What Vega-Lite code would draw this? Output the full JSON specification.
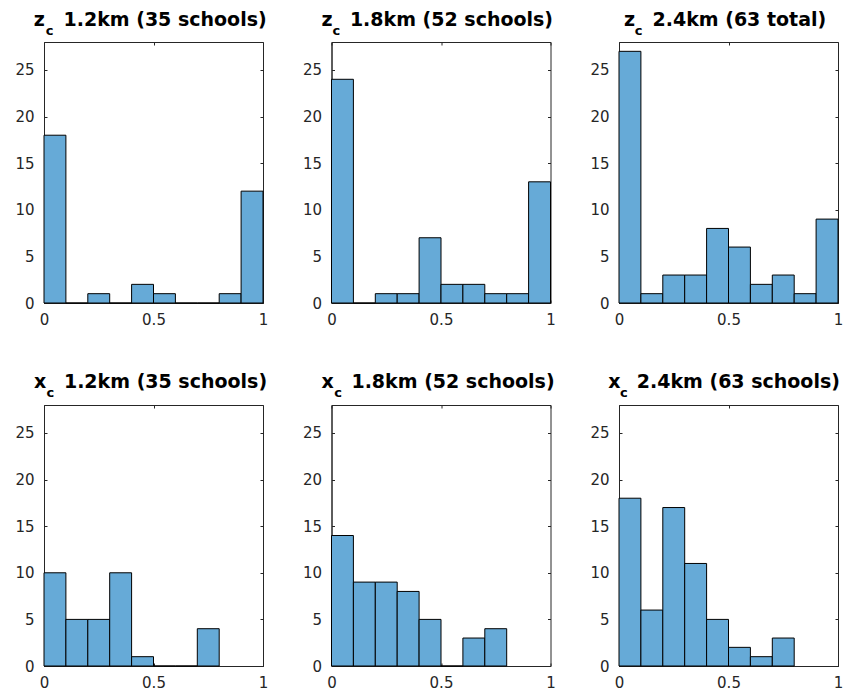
{
  "$schema": "https://vega.github.io/schema/vega-lite/v6.json",
  "padding": {"left": 14, "top": 10, "right": 5, "bottom": 5},
  "background": "white",
  "bounds": "flush",
  "columns": 3,
  "spacing": {"row": 102, "column": 68.5},
  "config": {
    "view": {"stroke": "#262626", "strokeWidth": 1},
    "axis": {"grid": false, "title": null, "labelFont": "DejaVu Sans", "labelFontSize": 15, "labelColor": "#262626", "domainColor": "#262626", "tickColor": "#262626", "tickSize": -3, "domainWidth": 1, "tickWidth": 1},
    "axisX": {"labelPadding": 12, "labelFlush": false},
    "axisY": {"labelPadding": 13}
  },
  "datasets": {
    "hist": [
      {"p": "z12", "b0": 0.0, "b1": 0.1, "n": 18}, {"p": "z12", "b0": 0.1, "b1": 0.2, "n": 0}, {"p": "z12", "b0": 0.2, "b1": 0.3, "n": 1}, {"p": "z12", "b0": 0.3, "b1": 0.4, "n": 0}, {"p": "z12", "b0": 0.4, "b1": 0.5, "n": 2}, {"p": "z12", "b0": 0.5, "b1": 0.6, "n": 1}, {"p": "z12", "b0": 0.6, "b1": 0.7, "n": 0}, {"p": "z12", "b0": 0.7, "b1": 0.8, "n": 0}, {"p": "z12", "b0": 0.8, "b1": 0.9, "n": 1}, {"p": "z12", "b0": 0.9, "b1": 1.0, "n": 12},
      {"p": "z18", "b0": 0.0, "b1": 0.1, "n": 24}, {"p": "z18", "b0": 0.1, "b1": 0.2, "n": 0}, {"p": "z18", "b0": 0.2, "b1": 0.3, "n": 1}, {"p": "z18", "b0": 0.3, "b1": 0.4, "n": 1}, {"p": "z18", "b0": 0.4, "b1": 0.5, "n": 7}, {"p": "z18", "b0": 0.5, "b1": 0.6, "n": 2}, {"p": "z18", "b0": 0.6, "b1": 0.7, "n": 2}, {"p": "z18", "b0": 0.7, "b1": 0.8, "n": 1}, {"p": "z18", "b0": 0.8, "b1": 0.9, "n": 1}, {"p": "z18", "b0": 0.9, "b1": 1.0, "n": 13},
      {"p": "z24", "b0": 0.0, "b1": 0.1, "n": 27}, {"p": "z24", "b0": 0.1, "b1": 0.2, "n": 1}, {"p": "z24", "b0": 0.2, "b1": 0.3, "n": 3}, {"p": "z24", "b0": 0.3, "b1": 0.4, "n": 3}, {"p": "z24", "b0": 0.4, "b1": 0.5, "n": 8}, {"p": "z24", "b0": 0.5, "b1": 0.6, "n": 6}, {"p": "z24", "b0": 0.6, "b1": 0.7, "n": 2}, {"p": "z24", "b0": 0.7, "b1": 0.8, "n": 3}, {"p": "z24", "b0": 0.8, "b1": 0.9, "n": 1}, {"p": "z24", "b0": 0.9, "b1": 1.0, "n": 9},
      {"p": "x12", "b0": 0.0, "b1": 0.1, "n": 10}, {"p": "x12", "b0": 0.1, "b1": 0.2, "n": 5}, {"p": "x12", "b0": 0.2, "b1": 0.3, "n": 5}, {"p": "x12", "b0": 0.3, "b1": 0.4, "n": 10}, {"p": "x12", "b0": 0.4, "b1": 0.5, "n": 1}, {"p": "x12", "b0": 0.5, "b1": 0.6, "n": 0}, {"p": "x12", "b0": 0.6, "b1": 0.7, "n": 0}, {"p": "x12", "b0": 0.7, "b1": 0.8, "n": 4},
      {"p": "x18", "b0": 0.0, "b1": 0.1, "n": 14}, {"p": "x18", "b0": 0.1, "b1": 0.2, "n": 9}, {"p": "x18", "b0": 0.2, "b1": 0.3, "n": 9}, {"p": "x18", "b0": 0.3, "b1": 0.4, "n": 8}, {"p": "x18", "b0": 0.4, "b1": 0.5, "n": 5}, {"p": "x18", "b0": 0.5, "b1": 0.6, "n": 0}, {"p": "x18", "b0": 0.6, "b1": 0.7, "n": 3}, {"p": "x18", "b0": 0.7, "b1": 0.8, "n": 4},
      {"p": "x24", "b0": 0.0, "b1": 0.1, "n": 18}, {"p": "x24", "b0": 0.1, "b1": 0.2, "n": 6}, {"p": "x24", "b0": 0.2, "b1": 0.3, "n": 17}, {"p": "x24", "b0": 0.3, "b1": 0.4, "n": 11}, {"p": "x24", "b0": 0.4, "b1": 0.5, "n": 5}, {"p": "x24", "b0": 0.5, "b1": 0.6, "n": 2}, {"p": "x24", "b0": 0.6, "b1": 0.7, "n": 1}, {"p": "x24", "b0": 0.7, "b1": 0.8, "n": 3}
    ]
  },
  "concat": [
    {
      "width": 219, "height": 261, "data": {"name": "hist"},
      "layer": [
        {"transform": [{"filter": "datum.p == 'z12'"}], "mark": {"type": "bar", "fill": "#66aad7", "stroke": "#000000", "strokeWidth": 1, "opacity": 1},
         "encoding": {"x": {"field": "b0", "type": "quantitative", "scale": {"domain": [0, 1], "nice": false}, "axis": {"orient": "bottom", "values": [0, 0.5, 1], "format": "~g"}}, "x2": {"field": "b1"},
                      "y": {"field": "n", "type": "quantitative", "scale": {"domain": [0, 28], "nice": false}, "axis": {"orient": "left", "values": [0, 5, 10, 15, 20, 25]}}, "y2": {"datum": 0}}},
        {"transform": [{"filter": "datum.p == 'z12'"}], "mark": {"type": "bar", "opacity": 0},
         "encoding": {"x": {"field": "b0", "type": "quantitative", "scale": {"domain": [0, 1], "nice": false}, "axis": {"orient": "top", "values": [0, 0.5, 1], "labels": false, "domain": false}}, "x2": {"field": "b1"},
                      "y": {"field": "n", "type": "quantitative", "scale": {"domain": [0, 28], "nice": false}, "axis": {"orient": "right", "values": [0, 5, 10, 15, 20, 25], "labels": false, "domain": false}}, "y2": {"datum": 0}}},
        {"data": {"values": [{}]}, "mark": {"type": "text", "align": "left", "baseline": "alphabetic", "font": "DejaVu Sans", "fontWeight": "bold", "fontSize": 19, "fill": "#000000"},
         "encoding": {"x": {"datum": -0.047, "type": "quantitative", "scale": {"domain": [0, 1], "nice": false}, "axis": null}, "y": {"datum": 29.68, "type": "quantitative", "scale": {"domain": [0, 28], "nice": false}, "axis": null}, "text": {"datum": "z"}}},
        {"data": {"values": [{}]}, "mark": {"type": "text", "align": "left", "baseline": "alphabetic", "font": "DejaVu Sans", "fontWeight": "bold", "fontSize": 13, "fill": "#000000"},
         "encoding": {"x": {"datum": 0.008, "type": "quantitative", "scale": {"domain": [0, 1], "nice": false}, "axis": null}, "y": {"datum": 28.79, "type": "quantitative", "scale": {"domain": [0, 28], "nice": false}, "axis": null}, "text": {"datum": "c"}}},
        {"data": {"values": [{}]}, "mark": {"type": "text", "align": "left", "baseline": "alphabetic", "font": "DejaVu Sans", "fontWeight": "bold", "fontSize": 19, "fill": "#000000"},
         "encoding": {"x": {"datum": 0.089, "type": "quantitative", "scale": {"domain": [0, 1], "nice": false}, "axis": null}, "y": {"datum": 29.68, "type": "quantitative", "scale": {"domain": [0, 28], "nice": false}, "axis": null}, "text": {"datum": "1.2km (35 schools)"}}}
      ],
      "resolve": {"axis": {"x": "independent", "y": "independent"}}
    },
    {
      "width": 219, "height": 261, "data": {"name": "hist"},
      "layer": [
        {"transform": [{"filter": "datum.p == 'z18'"}], "mark": {"type": "bar", "fill": "#66aad7", "stroke": "#000000", "strokeWidth": 1, "opacity": 1},
         "encoding": {"x": {"field": "b0", "type": "quantitative", "scale": {"domain": [0, 1], "nice": false}, "axis": {"orient": "bottom", "values": [0, 0.5, 1], "format": "~g"}}, "x2": {"field": "b1"},
                      "y": {"field": "n", "type": "quantitative", "scale": {"domain": [0, 28], "nice": false}, "axis": {"orient": "left", "values": [0, 5, 10, 15, 20, 25]}}, "y2": {"datum": 0}}},
        {"transform": [{"filter": "datum.p == 'z18'"}], "mark": {"type": "bar", "opacity": 0},
         "encoding": {"x": {"field": "b0", "type": "quantitative", "scale": {"domain": [0, 1], "nice": false}, "axis": {"orient": "top", "values": [0, 0.5, 1], "labels": false, "domain": false}}, "x2": {"field": "b1"},
                      "y": {"field": "n", "type": "quantitative", "scale": {"domain": [0, 28], "nice": false}, "axis": {"orient": "right", "values": [0, 5, 10, 15, 20, 25], "labels": false, "domain": false}}, "y2": {"datum": 0}}},
        {"data": {"values": [{}]}, "mark": {"type": "text", "align": "left", "baseline": "alphabetic", "font": "DejaVu Sans", "fontWeight": "bold", "fontSize": 19, "fill": "#000000"},
         "encoding": {"x": {"datum": -0.046, "type": "quantitative", "scale": {"domain": [0, 1], "nice": false}, "axis": null}, "y": {"datum": 29.68, "type": "quantitative", "scale": {"domain": [0, 28], "nice": false}, "axis": null}, "text": {"datum": "z"}}},
        {"data": {"values": [{}]}, "mark": {"type": "text", "align": "left", "baseline": "alphabetic", "font": "DejaVu Sans", "fontWeight": "bold", "fontSize": 13, "fill": "#000000"},
         "encoding": {"x": {"datum": 0.005, "type": "quantitative", "scale": {"domain": [0, 1], "nice": false}, "axis": null}, "y": {"datum": 28.79, "type": "quantitative", "scale": {"domain": [0, 28], "nice": false}, "axis": null}, "text": {"datum": "c"}}},
        {"data": {"values": [{}]}, "mark": {"type": "text", "align": "left", "baseline": "alphabetic", "font": "DejaVu Sans", "fontWeight": "bold", "fontSize": 19, "fill": "#000000"},
         "encoding": {"x": {"datum": 0.084, "type": "quantitative", "scale": {"domain": [0, 1], "nice": false}, "axis": null}, "y": {"datum": 29.68, "type": "quantitative", "scale": {"domain": [0, 28], "nice": false}, "axis": null}, "text": {"datum": "1.8km (52 schools)"}}}
      ],
      "resolve": {"axis": {"x": "independent", "y": "independent"}}
    },
    {
      "width": 219, "height": 261, "data": {"name": "hist"},
      "layer": [
        {"transform": [{"filter": "datum.p == 'z24'"}], "mark": {"type": "bar", "fill": "#66aad7", "stroke": "#000000", "strokeWidth": 1, "opacity": 1},
         "encoding": {"x": {"field": "b0", "type": "quantitative", "scale": {"domain": [0, 1], "nice": false}, "axis": {"orient": "bottom", "values": [0, 0.5, 1], "format": "~g"}}, "x2": {"field": "b1"},
                      "y": {"field": "n", "type": "quantitative", "scale": {"domain": [0, 28], "nice": false}, "axis": {"orient": "left", "values": [0, 5, 10, 15, 20, 25]}}, "y2": {"datum": 0}}},
        {"transform": [{"filter": "datum.p == 'z24'"}], "mark": {"type": "bar", "opacity": 0},
         "encoding": {"x": {"field": "b0", "type": "quantitative", "scale": {"domain": [0, 1], "nice": false}, "axis": {"orient": "top", "values": [0, 0.5, 1], "labels": false, "domain": false}}, "x2": {"field": "b1"},
                      "y": {"field": "n", "type": "quantitative", "scale": {"domain": [0, 28], "nice": false}, "axis": {"orient": "right", "values": [0, 5, 10, 15, 20, 25], "labels": false, "domain": false}}, "y2": {"datum": 0}}},
        {"data": {"values": [{}]}, "mark": {"type": "text", "align": "left", "baseline": "alphabetic", "font": "DejaVu Sans", "fontWeight": "bold", "fontSize": 19, "fill": "#000000"},
         "encoding": {"x": {"datum": 0.023, "type": "quantitative", "scale": {"domain": [0, 1], "nice": false}, "axis": null}, "y": {"datum": 29.68, "type": "quantitative", "scale": {"domain": [0, 28], "nice": false}, "axis": null}, "text": {"datum": "z"}}},
        {"data": {"values": [{}]}, "mark": {"type": "text", "align": "left", "baseline": "alphabetic", "font": "DejaVu Sans", "fontWeight": "bold", "fontSize": 13, "fill": "#000000"},
         "encoding": {"x": {"datum": 0.072, "type": "quantitative", "scale": {"domain": [0, 1], "nice": false}, "axis": null}, "y": {"datum": 28.79, "type": "quantitative", "scale": {"domain": [0, 28], "nice": false}, "axis": null}, "text": {"datum": "c"}}},
        {"data": {"values": [{}]}, "mark": {"type": "text", "align": "left", "baseline": "alphabetic", "font": "DejaVu Sans", "fontWeight": "bold", "fontSize": 19, "fill": "#000000"},
         "encoding": {"x": {"datum": 0.153, "type": "quantitative", "scale": {"domain": [0, 1], "nice": false}, "axis": null}, "y": {"datum": 29.68, "type": "quantitative", "scale": {"domain": [0, 28], "nice": false}, "axis": null}, "text": {"datum": "2.4km (63 total)"}}}
      ],
      "resolve": {"axis": {"x": "independent", "y": "independent"}}
    },
    {
      "width": 219, "height": 261, "data": {"name": "hist"},
      "layer": [
        {"transform": [{"filter": "datum.p == 'x12'"}], "mark": {"type": "bar", "fill": "#66aad7", "stroke": "#000000", "strokeWidth": 1, "opacity": 1},
         "encoding": {"x": {"field": "b0", "type": "quantitative", "scale": {"domain": [0, 1], "nice": false}, "axis": {"orient": "bottom", "values": [0, 0.5, 1], "format": "~g"}}, "x2": {"field": "b1"},
                      "y": {"field": "n", "type": "quantitative", "scale": {"domain": [0, 28], "nice": false}, "axis": {"orient": "left", "values": [0, 5, 10, 15, 20, 25]}}, "y2": {"datum": 0}}},
        {"transform": [{"filter": "datum.p == 'x12'"}], "mark": {"type": "bar", "opacity": 0},
         "encoding": {"x": {"field": "b0", "type": "quantitative", "scale": {"domain": [0, 1], "nice": false}, "axis": {"orient": "top", "values": [0, 0.5, 1], "labels": false, "domain": false}}, "x2": {"field": "b1"},
                      "y": {"field": "n", "type": "quantitative", "scale": {"domain": [0, 28], "nice": false}, "axis": {"orient": "right", "values": [0, 5, 10, 15, 20, 25], "labels": false, "domain": false}}, "y2": {"datum": 0}}},
        {"data": {"values": [{}]}, "mark": {"type": "text", "align": "left", "baseline": "alphabetic", "font": "DejaVu Sans", "fontWeight": "bold", "fontSize": 19, "fill": "#000000"},
         "encoding": {"x": {"datum": -0.046, "type": "quantitative", "scale": {"domain": [0, 1], "nice": false}, "axis": null}, "y": {"datum": 29.87, "type": "quantitative", "scale": {"domain": [0, 28], "nice": false}, "axis": null}, "text": {"datum": "x"}}},
        {"data": {"values": [{}]}, "mark": {"type": "text", "align": "left", "baseline": "alphabetic", "font": "DejaVu Sans", "fontWeight": "bold", "fontSize": 13, "fill": "#000000"},
         "encoding": {"x": {"datum": 0.011, "type": "quantitative", "scale": {"domain": [0, 1], "nice": false}, "axis": null}, "y": {"datum": 28.9, "type": "quantitative", "scale": {"domain": [0, 28], "nice": false}, "axis": null}, "text": {"datum": "c"}}},
        {"data": {"values": [{}]}, "mark": {"type": "text", "align": "left", "baseline": "alphabetic", "font": "DejaVu Sans", "fontWeight": "bold", "fontSize": 19, "fill": "#000000"},
         "encoding": {"x": {"datum": 0.091, "type": "quantitative", "scale": {"domain": [0, 1], "nice": false}, "axis": null}, "y": {"datum": 29.87, "type": "quantitative", "scale": {"domain": [0, 28], "nice": false}, "axis": null}, "text": {"datum": "1.2km (35 schools)"}}}
      ],
      "resolve": {"axis": {"x": "independent", "y": "independent"}}
    },
    {
      "width": 219, "height": 261, "data": {"name": "hist"},
      "layer": [
        {"transform": [{"filter": "datum.p == 'x18'"}], "mark": {"type": "bar", "fill": "#66aad7", "stroke": "#000000", "strokeWidth": 1, "opacity": 1},
         "encoding": {"x": {"field": "b0", "type": "quantitative", "scale": {"domain": [0, 1], "nice": false}, "axis": {"orient": "bottom", "values": [0, 0.5, 1], "format": "~g"}}, "x2": {"field": "b1"},
                      "y": {"field": "n", "type": "quantitative", "scale": {"domain": [0, 28], "nice": false}, "axis": {"orient": "left", "values": [0, 5, 10, 15, 20, 25]}}, "y2": {"datum": 0}}},
        {"transform": [{"filter": "datum.p == 'x18'"}], "mark": {"type": "bar", "opacity": 0},
         "encoding": {"x": {"field": "b0", "type": "quantitative", "scale": {"domain": [0, 1], "nice": false}, "axis": {"orient": "top", "values": [0, 0.5, 1], "labels": false, "domain": false}}, "x2": {"field": "b1"},
                      "y": {"field": "n", "type": "quantitative", "scale": {"domain": [0, 28], "nice": false}, "axis": {"orient": "right", "values": [0, 5, 10, 15, 20, 25], "labels": false, "domain": false}}, "y2": {"datum": 0}}},
        {"data": {"values": [{}]}, "mark": {"type": "text", "align": "left", "baseline": "alphabetic", "font": "DejaVu Sans", "fontWeight": "bold", "fontSize": 19, "fill": "#000000"},
         "encoding": {"x": {"datum": -0.046, "type": "quantitative", "scale": {"domain": [0, 1], "nice": false}, "axis": null}, "y": {"datum": 29.87, "type": "quantitative", "scale": {"domain": [0, 28], "nice": false}, "axis": null}, "text": {"datum": "x"}}},
        {"data": {"values": [{}]}, "mark": {"type": "text", "align": "left", "baseline": "alphabetic", "font": "DejaVu Sans", "fontWeight": "bold", "fontSize": 13, "fill": "#000000"},
         "encoding": {"x": {"datum": 0.012, "type": "quantitative", "scale": {"domain": [0, 1], "nice": false}, "axis": null}, "y": {"datum": 28.9, "type": "quantitative", "scale": {"domain": [0, 28], "nice": false}, "axis": null}, "text": {"datum": "c"}}},
        {"data": {"values": [{}]}, "mark": {"type": "text", "align": "left", "baseline": "alphabetic", "font": "DejaVu Sans", "fontWeight": "bold", "fontSize": 19, "fill": "#000000"},
         "encoding": {"x": {"datum": 0.091, "type": "quantitative", "scale": {"domain": [0, 1], "nice": false}, "axis": null}, "y": {"datum": 29.87, "type": "quantitative", "scale": {"domain": [0, 28], "nice": false}, "axis": null}, "text": {"datum": "1.8km (52 schools)"}}}
      ],
      "resolve": {"axis": {"x": "independent", "y": "independent"}}
    },
    {
      "width": 219, "height": 261, "data": {"name": "hist"},
      "layer": [
        {"transform": [{"filter": "datum.p == 'x24'"}], "mark": {"type": "bar", "fill": "#66aad7", "stroke": "#000000", "strokeWidth": 1, "opacity": 1},
         "encoding": {"x": {"field": "b0", "type": "quantitative", "scale": {"domain": [0, 1], "nice": false}, "axis": {"orient": "bottom", "values": [0, 0.5, 1], "format": "~g"}}, "x2": {"field": "b1"},
                      "y": {"field": "n", "type": "quantitative", "scale": {"domain": [0, 28], "nice": false}, "axis": {"orient": "left", "values": [0, 5, 10, 15, 20, 25]}}, "y2": {"datum": 0}}},
        {"transform": [{"filter": "datum.p == 'x24'"}], "mark": {"type": "bar", "opacity": 0},
         "encoding": {"x": {"field": "b0", "type": "quantitative", "scale": {"domain": [0, 1], "nice": false}, "axis": {"orient": "top", "values": [0, 0.5, 1], "labels": false, "domain": false}}, "x2": {"field": "b1"},
                      "y": {"field": "n", "type": "quantitative", "scale": {"domain": [0, 28], "nice": false}, "axis": {"orient": "right", "values": [0, 5, 10, 15, 20, 25], "labels": false, "domain": false}}, "y2": {"datum": 0}}},
        {"data": {"values": [{}]}, "mark": {"type": "text", "align": "left", "baseline": "alphabetic", "font": "DejaVu Sans", "fontWeight": "bold", "fontSize": 19, "fill": "#000000"},
         "encoding": {"x": {"datum": -0.049, "type": "quantitative", "scale": {"domain": [0, 1], "nice": false}, "axis": null}, "y": {"datum": 29.87, "type": "quantitative", "scale": {"domain": [0, 28], "nice": false}, "axis": null}, "text": {"datum": "x"}}},
        {"data": {"values": [{}]}, "mark": {"type": "text", "align": "left", "baseline": "alphabetic", "font": "DejaVu Sans", "fontWeight": "bold", "fontSize": 13, "fill": "#000000"},
         "encoding": {"x": {"datum": 0.005, "type": "quantitative", "scale": {"domain": [0, 1], "nice": false}, "axis": null}, "y": {"datum": 28.9, "type": "quantitative", "scale": {"domain": [0, 28], "nice": false}, "axis": null}, "text": {"datum": "c"}}},
        {"data": {"values": [{}]}, "mark": {"type": "text", "align": "left", "baseline": "alphabetic", "font": "DejaVu Sans", "fontWeight": "bold", "fontSize": 19, "fill": "#000000"},
         "encoding": {"x": {"datum": 0.081, "type": "quantitative", "scale": {"domain": [0, 1], "nice": false}, "axis": null}, "y": {"datum": 29.87, "type": "quantitative", "scale": {"domain": [0, 28], "nice": false}, "axis": null}, "text": {"datum": "2.4km (63 schools)"}}}
      ],
      "resolve": {"axis": {"x": "independent", "y": "independent"}}
    }
  ]
}
